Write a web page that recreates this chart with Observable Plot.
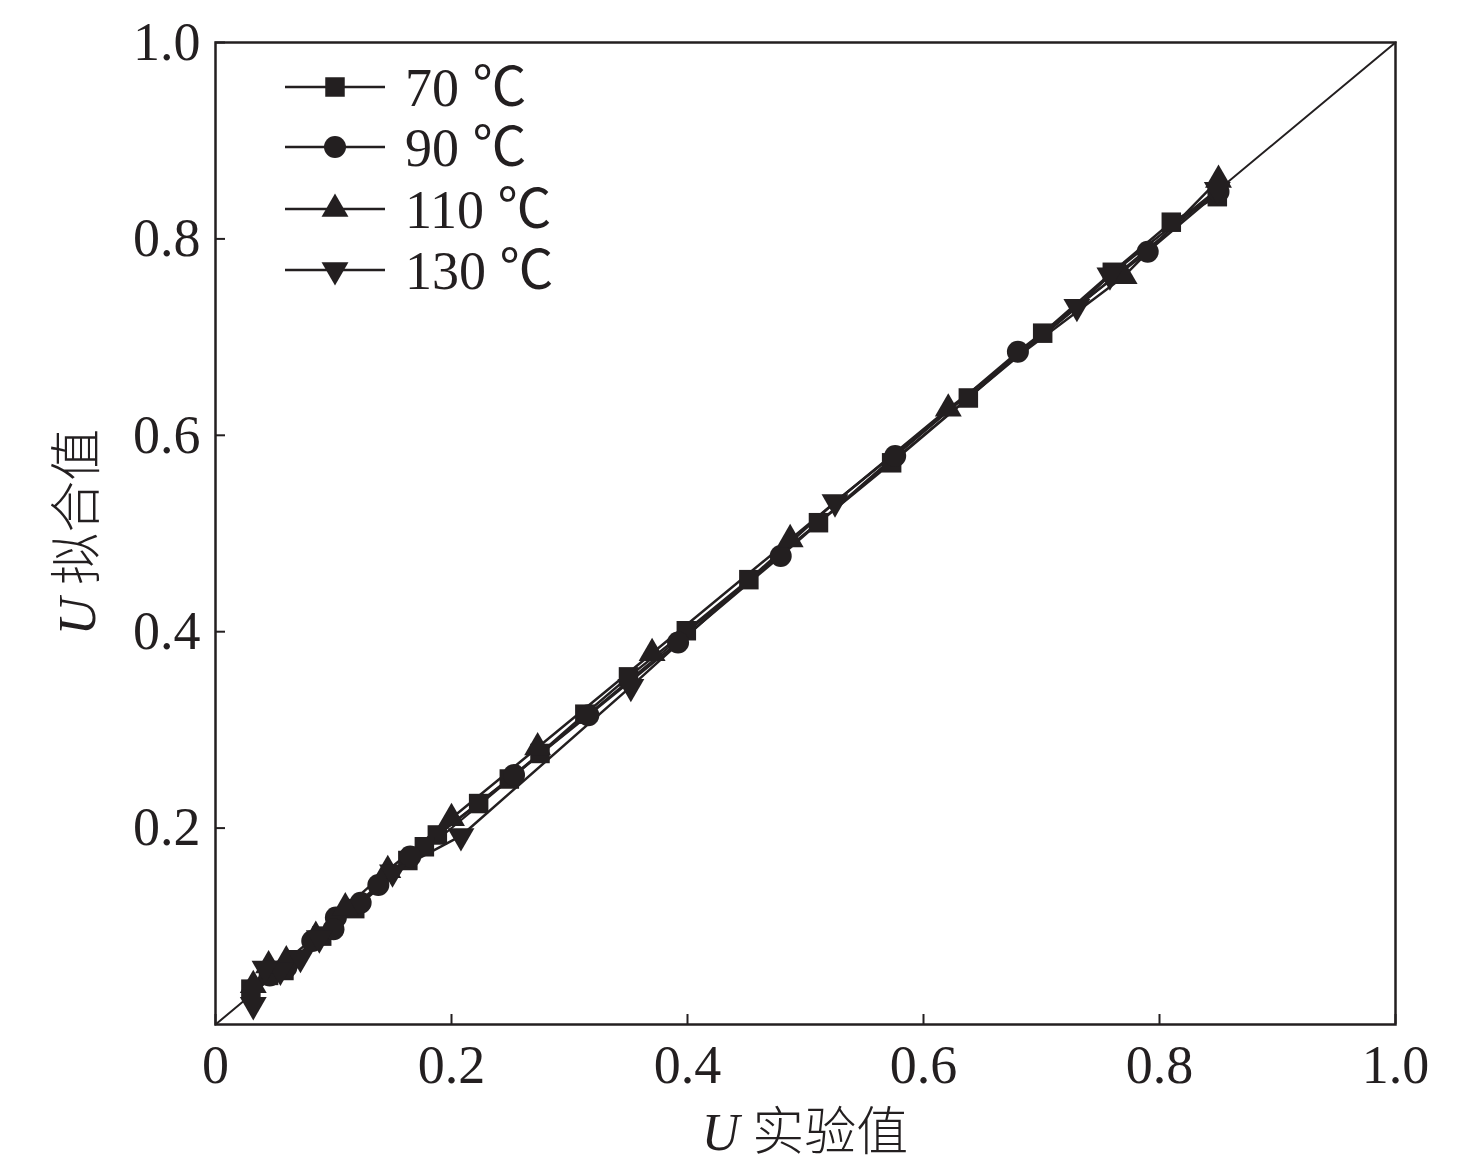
<!DOCTYPE html>
<html>
<head>
<meta charset="utf-8">
<script src="https://cdn.jsdelivr.net/npm/d3@7"></script>
<script src="https://cdn.jsdelivr.net/npm/@observablehq/plot@0.6"></script>
<style>
  html, body { margin: 0; padding: 0; background: #fff; }
  #chart { position: relative; width: 1476px; height: 1167px; }
</style>
</head>
<body>
<div id="chart"></div>
<script>
const ink = "#231f20";
const serif = "'Liberation Serif', 'Times New Roman', 'Noto Sans CJK SC', serif";

// Series (experimental U, fitted U)
const s70 = [
  [0.849,0.843],[0.810,0.817],[0.760,0.766],[0.701,0.704],[0.638,0.638],[0.573,0.572],
  [0.511,0.511],[0.452,0.453],[0.399,0.401],[0.350,0.354],[0.313,0.316],[0.275,0.276],
  [0.249,0.250],[0.223,0.225],[0.188,0.193],[0.177,0.181],[0.163,0.167],[0.118,0.118],
  [0.090,0.090],[0.058,0.055],[0.045,0.050],[0.030,0.036]
];
const s90 = [
  [0.850,0.848],[0.790,0.787],[0.680,0.685],[0.576,0.579],[0.479,0.477],[0.392,0.389],
  [0.316,0.315],[0.253,0.254],[0.165,0.171],[0.138,0.142],[0.123,0.124],[0.102,0.109],
  [0.100,0.097],[0.082,0.085],[0.060,0.058],[0.046,0.050]
];
const s110 = [
  [0.850,0.860],[0.770,0.762],[0.621,0.627],[0.487,0.494],[0.370,0.378],[0.273,0.282],
  [0.200,0.210],[0.146,0.157],[0.110,0.119],[0.085,0.090],[0.060,0.065],[0.045,0.060],
  [0.032,0.040]
];
const s130 = [
  [0.849,0.850],[0.758,0.763],[0.730,0.731],[0.525,0.532],[0.352,0.344],[0.208,0.192],
  [0.150,0.155],[0.088,0.088],[0.072,0.068],[0.055,0.055],[0.042,0.057],[0.032,0.020]
];
const seriesNames = ["70 ℃", "90 ℃", "110 ℃", "130 ℃"];
const xTicks = [0, 0.2, 0.4, 0.6, 0.8, 1.0];
const yTicks = [0.2, 0.4, 0.6, 0.8, 1.0];
const refLine = [0, 1];

const fmt = d => d === 0 ? "0" : d.toFixed(1);
const X = d => d[0], Y = d => d[1];

const seriesDefs = [
  {data: s70, symbol: "square", r: 11, rotate: 0},
  {data: s90, symbol: "circle", r: 11, rotate: 0},
  {data: s110, symbol: "triangle", r: 10, rotate: 0},
  {data: s130, symbol: "triangle", r: 10, rotate: 180}
];

const marks = [
  Plot.frame({stroke: ink, strokeWidth: 2.5}),
  Plot.axisX({ticks: xTicks, tickFormat: fmt, tickSize: -10, tickPadding: 30, stroke: ink, strokeWidth: 2, label: null, fontSize: 54, fill: ink}),
  Plot.axisY({ticks: yTicks, tickFormat: fmt, tickSize: -10, tickPadding: 25, stroke: ink, strokeWidth: 2, label: null, fontSize: 54, fill: ink}),
  Plot.line(refLine, {x: d => d, y: d => d, stroke: ink, strokeWidth: 2})
];
for (const s of seriesDefs) {
  marks.push(Plot.line(s.data, {x: X, y: Y, stroke: ink, strokeWidth: 2.5}));
}
for (const s of seriesDefs) {
  marks.push(Plot.dot(s.data, {x: X, y: Y, symbol: s.symbol, r: s.r, rotate: s.rotate, fill: ink, stroke: "none"}));
}

const chart = Plot.plot({
  width: 1476,
  height: 1167,
  marginLeft: 215,
  marginRight: 81,
  marginTop: 42,
  marginBottom: 143,
  x: {domain: [0, 1]},
  y: {domain: [0, 1]},
  style: {fontFamily: serif, fontSize: "54px", color: ink, background: "#fff"},
  marks
});
document.getElementById("chart").appendChild(chart);

const svg = d3.select(chart);

// Axis titles
const xt = svg.append("text")
  .attr("x", 805).attr("y", 1150)
  .attr("text-anchor", "middle")
  .attr("fill", ink)
  .style("font-size", "52px");
xt.append("tspan").style("font-family", serif).style("font-style", "italic").text("U ");
xt.append("tspan").style("font-family", "'Noto Sans CJK SC', sans-serif").style("font-weight", "300").text("实验值");

const yt = svg.append("text")
  .attr("transform", "translate(95,532) rotate(-90)")
  .attr("text-anchor", "middle")
  .attr("fill", ink)
  .style("font-size", "52px");
yt.append("tspan").style("font-family", serif).style("font-style", "italic").text("U ");
yt.append("tspan").style("font-family", "'Noto Sans CJK SC', sans-serif").style("font-weight", "300").text("拟合值");

// Legend
const legY = [87, 147, 209, 270];
const symMap = {square: d3.symbolSquare, circle: d3.symbolCircle, triangle: d3.symbolTriangle};
const lg = svg.append("g");
seriesDefs.forEach((s, i) => {
  const y = legY[i];
  lg.append("line").attr("x1", 285).attr("x2", 385).attr("y1", y).attr("y2", y)
    .attr("stroke", ink).attr("stroke-width", 2.5);
  lg.append("path")
    .attr("d", d3.symbol(symMap[s.symbol], Math.PI * s.r * s.r)())
    .attr("transform", `translate(335,${y}) rotate(${s.rotate})`)
    .attr("fill", ink);
  lg.append("text").attr("x", 405).attr("y", y).attr("dy", "0.35em")
    .attr("text-anchor", "start")
    .attr("fill", ink).style("font-family", serif).style("font-size", "54px")
    .text(seriesNames[i]);
});
</script>
</body>
</html>
